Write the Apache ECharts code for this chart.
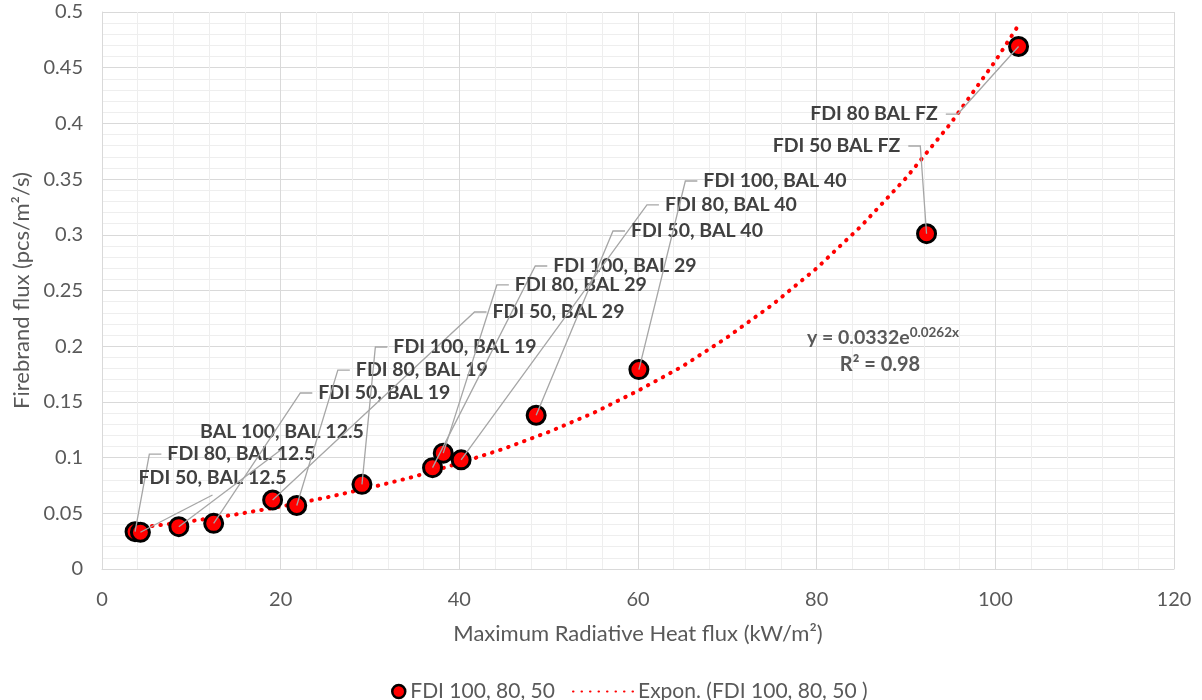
<!DOCTYPE html>
<html>
<head>
<meta charset="utf-8">
<script src="https://cdn.jsdelivr.net/npm/echarts@6/dist/echarts.min.js"></script>
<style>
  html, body { margin: 0; background: #ffffff; }
  #chart { width: 1202px; height: 700px; }
</style>
</head>
<body>
<div id="chart"></div>
<script>
// measured points (kW/m2, pcs/m2/s)
const heatFlux = [3.7, 4.3, 8.6, 12.5, 19.1, 21.8, 29.1, 37.0, 38.2, 40.2, 48.6, 60.1, 92.3, 102.6];
const firebrandFlux = [0.0335, 0.033, 0.038, 0.041, 0.062, 0.057, 0.076, 0.091, 0.104, 0.098, 0.138, 0.179, 0.301, 0.469];
const pointLabels = [
  "FDI 80, BAL 12.5", "FDI 50, BAL 12.5", "BAL 100, BAL 12.5", "FDI 50, BAL 19",
  "FDI 50, BAL 29", "FDI 80, BAL 19", "FDI 100, BAL 19", "FDI 100, BAL 29",
  "FDI 80, BAL 29", "FDI 80, BAL 40", "FDI 50, BAL 40", "FDI 100, BAL 40",
  "FDI 50 BAL FZ", "FDI 80 BAL FZ"
];
// where each moved label sits, in axis units
const labelAt = [
  [5.3, 0.1032], [12.37, 0.0817], [20.15, 0.123], [22.2, 0.158],
  [41.7, 0.2307], [26.4, 0.1786], [30.6, 0.1993], [48.5, 0.272],
  [44.2, 0.255], [61.0, 0.3268], [57.2, 0.3034], [65.3, 0.3483],
  [91.6, 0.3797], [95.8, 0.4084]
];
const labelSide = ["left", "below", "below", "left", "left", "left", "left", "left",
  "left", "left", "left", "left", "right", "right"];

// exponential trendline
const trendX = [3.7, 5, 10, 15, 20, 25, 30, 35, 40, 45, 50, 55, 60, 65, 70, 75, 80, 85, 90, 95, 100, 102.5];
const trendY = [0.037, 0.038, 0.043, 0.049, 0.056, 0.064, 0.073, 0.083, 0.095, 0.108, 0.123, 0.140,
  0.160, 0.182, 0.208, 0.237, 0.270, 0.308, 0.351, 0.400, 0.456, 0.487];

const xTicks = [0, 20, 40, 60, 80, 100, 120];
const yTicks = [0, 0.05, 0.1, 0.15, 0.2, 0.25, 0.3, 0.35, 0.4, 0.45, 0.5];

const seriesName = "FDI 100, 80, 50";
const trendName = "Expon. (FDI 100, 80, 50 )";

const font = "Lato, 'Liberation Sans', sans-serif";
const axisGray = "#595959";

const chart = echarts.init(document.getElementById("chart"), null, { renderer: "canvas" });

function renderLabel(params, api) {
  const i = params.dataIndex;
  const p = api.coord([heatFlux[i], firebrandFlux[i]]);
  const a = api.coord(labelAt[i]);
  const side = labelSide[i];
  let points, tx, ty, align;
  if (side === "left") {
    points = [p, a, [a[0] + 12, a[1]]];
    tx = a[0] + 18; ty = a[1]; align = "left";
  } else if (side === "right") {
    points = [p, a, [a[0] - 12, a[1]]];
    tx = a[0] - 20; ty = a[1]; align = "right";
  } else {
    points = [p, [a[0], a[1] + 17]];
    tx = a[0]; ty = a[1]; align = "center";
  }
  return {
    type: "group",
    children: [
      {
        type: "polyline",
        shape: { points },
        style: { stroke: "#a6a6a6", lineWidth: 1.3, fill: null }
      },
      {
        type: "text",
        x: tx,
        y: ty,
        style: {
          text: pointLabels[i],
          fill: "#404040",
          font: "bold 19.5px " + font,
          align,
          verticalAlign: "middle"
        }
      }
    ]
  };
}

chart.setOption({
  animation: false,
  textStyle: { fontFamily: font },
  grid: { left: 102, right: 28, top: 12, bottom: 131 },
  legend: [
    {
      data: [seriesName],
      left: 386,
      top: 676,
      itemWidth: 13,
      itemHeight: 13,
      textStyle: { color: axisGray, fontSize: 21 },
      itemStyle: { borderWidth: 2.5 }
    },
    {
      data: [trendName],
      left: 567,
      top: 676,
      itemWidth: 60,
      itemHeight: 14,
      textStyle: { color: axisGray, fontSize: 21 },
      itemStyle: { opacity: 0 }
    }
  ],
  xAxis: {
    type: "value",
    min: xTicks[0],
    max: xTicks[xTicks.length - 1],
    interval: xTicks[1] - xTicks[0],
    name: "Maximum Radiative Heat flux (kW/m²)",
    nameLocation: "middle",
    nameGap: 54,
    nameTextStyle: { color: axisGray, fontSize: 22 },
    axisLine: { lineStyle: { color: "#d9d9d9", width: 1 } },
    axisTick: { show: false },
    axisLabel: { color: axisGray, fontSize: 20, margin: 21 },
    splitLine: { lineStyle: { color: "#d9d9d9", width: 1 } },
    minorTick: { show: false, splitNumber: 5 },
    minorSplitLine: { show: true, lineStyle: { color: "#eeeeee", width: 1 } }
  },
  yAxis: {
    type: "value",
    min: yTicks[0],
    max: yTicks[yTicks.length - 1],
    interval: yTicks[1] - yTicks[0],
    name: "Firebrand flux (pcs/m²/s)",
    nameLocation: "middle",
    nameGap: 66,
    nameTextStyle: { color: axisGray, fontSize: 22 },
    axisLine: { show: true, lineStyle: { color: "#d9d9d9", width: 1 } },
    axisTick: { show: false },
    axisLabel: { color: axisGray, fontSize: 20, margin: 19 },
    splitLine: { lineStyle: { color: "#d9d9d9", width: 1 } },
    minorTick: { show: false, splitNumber: 5 },
    minorSplitLine: { show: true, lineStyle: { color: "#eeeeee", width: 1 } }
  },
  series: [
    {
      name: trendName,
      type: "line",
      data: trendX.map((x, i) => [x, trendY[i]]),
      smooth: false,
      symbol: "none",
      z: 2,
      lineStyle: { color: "#ff0000", width: 4, type: [0.5, 8], cap: "round" },
      itemStyle: { color: "#ff0000" }
    },
    {
      name: seriesName,
      type: "scatter",
      data: heatFlux.map((x, i) => [x, firebrandFlux[i]]),
      symbolSize: 18,
      z: 3,
      itemStyle: { color: "#ff0000", borderColor: "#000000", borderWidth: 3, opacity: 1 }
    },
    {
      name: "labels",
      type: "custom",
      data: heatFlux.map((x, i) => [x, firebrandFlux[i]]),
      encode: { x: 0, y: 1 },
      renderItem: renderLabel,
      clip: false,
      silent: true,
      z: 4
    }
  ],
  graphic: [
    {
      type: "text",
      x: 883,
      y: 338,
      z: 10,
      style: {
        text: "{b|y = 0.0332e}{s|0.0262x}",
        align: "center",
        verticalAlign: "middle",
        rich: {
          b: { fill: axisGray, fontSize: 19.5, fontWeight: "bold", fontFamily: font, lineHeight: 24 },
          s: { fill: axisGray, fontSize: 13.5, fontWeight: "bold", fontFamily: font, verticalAlign: "top", lineHeight: 24, padding: [0, 0, 11, 0] }
        }
      }
    },
    {
      type: "text",
      x: 880,
      y: 365,
      z: 10,
      style: {
        text: "R² = 0.98",
        fill: axisGray,
        font: "bold 20px " + font,
        align: "center",
        verticalAlign: "middle"
      }
    }
  ]
});
</script>
</body>
</html>
